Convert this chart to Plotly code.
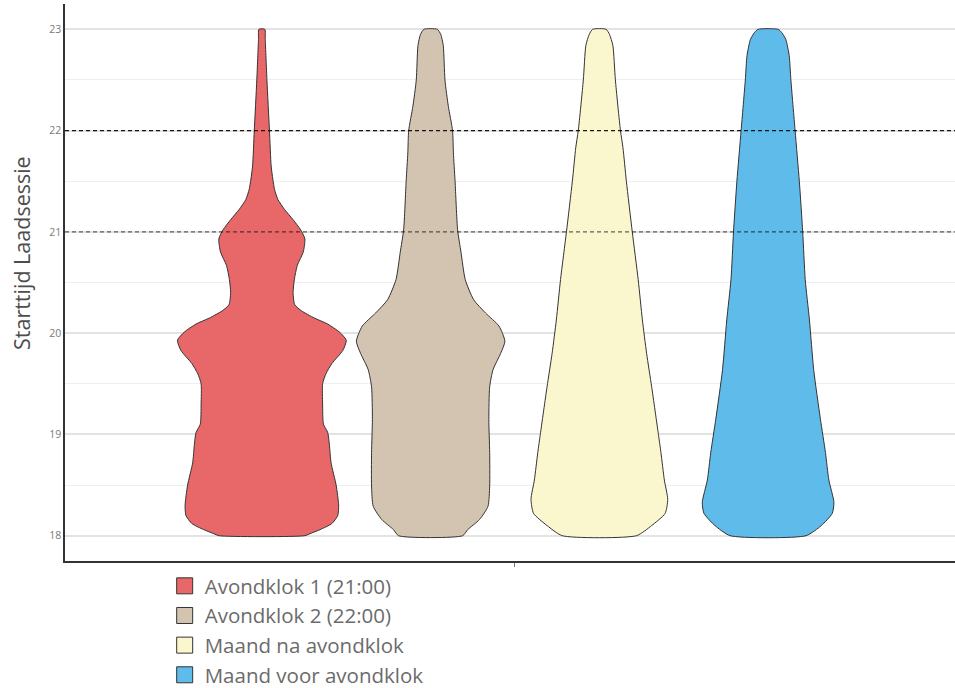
import plotly.graph_objects as go

# ---- data ----
categories = ["Avondklok 1 (21:00)", "Avondklok 2 (22:00)",
              "Maand na avondklok", "Maand voor avondklok"]
colors = ["#E86869", "#D2C4B0", "#FAF7CE", "#5EBBEA"]

# start hour levels and relative violin density (1.0 = widest violin)
red_y = [18.00, 18.02, 18.06, 18.12, 18.20, 18.30, 18.50, 18.72, 18.90, 19.02, 19.10,
         19.30, 19.50, 19.60, 19.70, 19.83, 19.93, 20.01, 20.09, 20.15, 20.22, 20.28,
         20.40, 20.53, 20.67, 20.80, 20.93, 21.02, 21.12, 21.22, 21.32, 21.42, 21.52,
         21.65, 22.00, 22.50, 22.90, 23.00]
red_d = [0.51, 0.57, 0.69, 0.83, 0.90, 0.91, 0.88, 0.82, 0.80, 0.78, 0.73,
         0.72, 0.72, 0.76, 0.83, 0.96, 1.00, 0.92, 0.78, 0.62, 0.47, 0.39,
         0.37, 0.385, 0.42, 0.49, 0.51, 0.46, 0.37, 0.27, 0.19, 0.15, 0.13,
         0.11, 0.09, 0.06, 0.04, 0.035]

tan_y = [18.00, 18.06, 18.16, 18.29, 18.49, 18.82, 19.15, 19.47, 19.64, 19.80, 19.92,
         20.07, 20.20, 20.33, 20.53, 20.80, 21.02, 21.50, 21.78, 22.00, 22.24, 22.50,
         22.84, 22.95, 23.00]
tan_d = [0.38, 0.44, 0.58, 0.68, 0.70, 0.70, 0.69, 0.70, 0.74, 0.83, 0.88,
         0.81, 0.65, 0.51, 0.41, 0.36, 0.32, 0.29, 0.27, 0.26, 0.21, 0.17,
         0.15, 0.12, 0.08]

yel_y = [18.00, 18.10, 18.22, 18.36, 18.55, 18.82, 19.00, 19.47, 19.80, 20.13,
         20.53, 21.00, 21.50, 21.83, 22.00, 22.50, 22.84, 22.95, 23.00]
yel_d = [0.44, 0.62, 0.78, 0.81, 0.77, 0.73, 0.70, 0.62, 0.56, 0.51,
         0.46, 0.39, 0.32, 0.28, 0.25, 0.19, 0.16, 0.12, 0.08]

blu_y = [18.00, 18.10, 18.22, 18.33, 18.55, 18.82, 19.15, 19.64, 20.13, 20.53,
         21.00, 21.50, 22.00, 22.50, 22.74, 22.90, 22.97, 23.00]
blu_d = [0.45, 0.63, 0.76, 0.78, 0.72, 0.68, 0.62, 0.54, 0.49, 0.44,
         0.41, 0.37, 0.32, 0.27, 0.25, 0.21, 0.16, 0.12]

curfew_hours = [21, 22]
y_ticks = [18, 19, 20, 21, 22, 23]
y_title = "Starttijd Laadsessie"

series = [(red_y, red_d), (tan_y, tan_d), (yel_y, yel_d), (blu_y, blu_d)]

# ---- layout logic (ggplot-like dodge of one discrete x group) ----
group_x = 1.0
dodge = 0.9
n = len(categories)
slot = dodge / n
half_max = slot / 2

fig = go.Figure()
for i, (name, col, (ys, ds)) in enumerate(zip(categories, colors, series)):
    cx = group_x + (i - (n - 1) / 2) * slot
    right = [cx + d * half_max for d in ds]
    left = [cx - d * half_max for d in ds]
    xs = right + left[::-1] + [right[0]]
    yy = ys + ys[::-1] + [ys[0]]
    fig.add_trace(go.Scatter(
        x=xs, y=yy, mode="lines", fill="toself", fillcolor=col,
        line=dict(color="#333333", width=1, shape="spline", smoothing=0.6),
        name=name, legendgroup=name, showlegend=False, hoverinfo="name"))
    fig.add_trace(go.Scatter(
        x=[None], y=[None], mode="markers", name=name, legendgroup=name,
        marker=dict(symbol="square", size=16, color=col,
                    line=dict(color="#333333", width=1))))

for h, c in zip(curfew_hours, ["rgba(0,0,0,0.6)", "rgba(0,0,0,0.9)"]):
    fig.add_shape(type="line", xref="paper", x0=0, x1=1, y0=h, y1=h,
                  line=dict(color=c, width=1.2, dash="4px,3px"), layer="above")

fig.add_annotation(text=y_title, textangle=-90, xref="paper", yref="paper",
                   x=-0.0483, y=0.553, xanchor="center", yanchor="middle",
                   showarrow=False, font=dict(size=21.5, color="#4d4d4d"))

fig.update_layout(
    width=955, height=688,
    margin=dict(l=65, r=0, t=4, b=127, autoexpand=False),
    paper_bgcolor="white", plot_bgcolor="white",
    font=dict(family="Open Sans", color="#666666"),
    showlegend=True,
    legend=dict(x=0.112, y=-0.009, xanchor="left", yanchor="top",
                font=dict(size=20.5, color="#6b6b6b"), bgcolor="rgba(0,0,0,0)",
                tracegroupgap=0, itemsizing="trace"),
    xaxis=dict(range=[0.4, 1.5867], tickvals=[group_x], ticktext=[""],
               ticks="outside", ticklen=4, tickcolor="#777777", tickwidth=1,
               showgrid=False, zeroline=False, showline=True,
               linecolor="#333333", linewidth=1.5),
    yaxis=dict(range=[17.75, 23.25], tickvals=y_ticks,
               tickfont=dict(size=10.5, color="#7a7a7a"),
               ticks="", showgrid=True, gridcolor="#e3e3e3", gridwidth=1.6,
               minor=dict(dtick=0.5, showgrid=True, gridcolor="#efefef", gridwidth=1),
               zeroline=False, showline=True, linecolor="#333333", linewidth=1.5),
)

fig.write_html("out.html")
